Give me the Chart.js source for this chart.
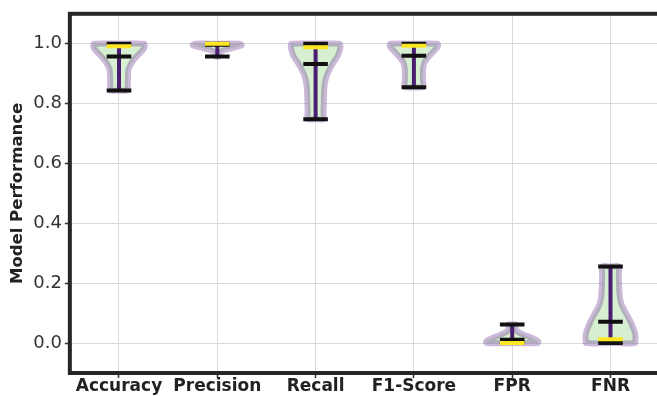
<!DOCTYPE html>
<html>
<head>
<meta charset="utf-8">
<script src="https://cdn.jsdelivr.net/npm/chart.js@4.4.1/dist/chart.umd.min.js"></script>
<style>
  html, body { margin: 0; padding: 0; background: #fff; overflow: hidden; }
  #wrap { width: 662px; height: 396px; }
</style>
</head>
<body>
<div id="wrap"><canvas id="c" width="662" height="396"></canvas></div>
<script>
// Metrics shown on the x axis
const categories = ['Accuracy', 'Precision', 'Recall', 'F1-Score', 'FPR', 'FNR'];
const yTickValues = [0.0, 0.2, 0.4, 0.6, 0.8, 1.0];

// Summary statistics per metric
const minValues    = [0.844, 0.957, 0.748, 0.855, 0.000, 0.000];
const maxValues    = [1.000, 1.000, 1.000, 1.000, 0.062, 0.256];
const meanValues   = [0.957, 0.997, 0.932, 0.960, 0.011, 0.071];
const medianValues = [0.992, 1.000, 0.988, 0.993, 0.000, 0.013];

// Density outline of each violin: score levels and body half-width at each level
const accuracyLevels  = [0.844, 0.86, 0.89, 0.915, 0.93, 0.945, 0.96, 0.975, 0.99, 1.0];
const accuracyWidths  = [0.090, 0.090, 0.091, 0.097, 0.117, 0.147, 0.187, 0.232, 0.262, 0.252];
const precisionLevels = [0.957, 0.965, 0.972, 0.979, 0.985, 0.99, 0.995, 1.0];
const precisionWidths = [0.017, 0.019, 0.032, 0.072, 0.142, 0.202, 0.249, 0.222];
const recallLevels    = [0.748, 0.77, 0.80, 0.83, 0.86, 0.88, 0.90, 0.92, 0.94, 0.96, 0.98, 0.99, 1.0];
const recallWidths    = [0.080, 0.081, 0.083, 0.086, 0.091, 0.102, 0.122, 0.152, 0.187, 0.227, 0.247, 0.253, 0.242];
const f1Levels        = [0.855, 0.88, 0.90, 0.92, 0.94, 0.955, 0.97, 0.985, 0.995, 1.0];
const f1Widths        = [0.092, 0.092, 0.092, 0.094, 0.112, 0.147, 0.187, 0.232, 0.247, 0.237];
const fprLevels       = [0.0, 0.005, 0.012, 0.02, 0.027, 0.035, 0.043, 0.05, 0.062];
const fprWidths       = [0.257, 0.267, 0.232, 0.177, 0.124, 0.072, 0.040, 0.037, 0.037];
const fnrLevels       = [0.0, 0.01, 0.03, 0.05, 0.07, 0.09, 0.11, 0.13, 0.15, 0.17, 0.20, 0.23, 0.256];
const fnrWidths       = [0.247, 0.253, 0.252, 0.232, 0.207, 0.175, 0.141, 0.112, 0.097, 0.091, 0.087, 0.085, 0.084];

const violinLevels = [accuracyLevels, precisionLevels, recallLevels, f1Levels, fprLevels, fnrLevels];
const violinWidths = [accuracyWidths, precisionWidths, recallWidths, f1Widths, fprWidths, fnrWidths];

const CAP_HALF = 0.125;

// Closed outline: bottom centre -> right side up -> top centre -> left side down -> bottom centre
function violinOutline(pos, levels, widths) {
  const n = levels.length;
  const pts = [{ x: pos, y: levels[0] }];
  for (let k = 0; k < n; k++) pts.push({ x: pos + widths[k], y: levels[k] });
  pts.push({ x: pos, y: levels[n - 1] });
  for (let k = n - 1; k >= 0; k--) pts.push({ x: pos - widths[k], y: levels[k] });
  pts.push({ x: pos, y: levels[0] });
  return pts;
}

function hLine(pos, v, color, order) {
  return {
    data: [{ x: pos - CAP_HALF, y: v }, { x: pos + CAP_HALF, y: v }],
    borderColor: color, borderWidth: 4, pointRadius: 0, fill: false,
    borderCapStyle: 'butt', order
  };
}

const datasets = [];
categories.forEach((name, i) => {
  datasets.push({
    label: name,
    data: violinOutline(i, violinLevels[i], violinWidths[i]),
    borderColor: 'rgba(110, 55, 150, 0.35)',
    backgroundColor: '#d6efd1',
    fill: 'shape',
    borderWidth: 6,
    borderJoinStyle: 'round',
    pointRadius: 0,
    tension: 0.3,
    order: 4
  });
  datasets.push({
    data: [{ x: i, y: minValues[i] }, { x: i, y: maxValues[i] }],
    borderColor: '#4a1d70', borderWidth: 4, pointRadius: 0, fill: false, order: 3
  });
  datasets.push(hLine(i, minValues[i], '#111111', 2));
  datasets.push(hLine(i, maxValues[i], '#111111', 2));
  datasets.push(hLine(i, meanValues[i], '#111111', 2));
  datasets.push(hLine(i, medianValues[i], '#fde725', 1));
});

const framePlugin = {
  id: 'frame',
  afterDraw(chart) {
    const { ctx, chartArea: a } = chart;
    ctx.save();
    ctx.strokeStyle = '#262626';
    ctx.lineWidth = 4;
    ctx.strokeRect(a.left, a.top, a.right - a.left, a.bottom - a.top);
    ctx.restore();
  }
};

new Chart(document.getElementById('c'), {
  type: 'line',
  data: { datasets },
  plugins: [framePlugin],
  options: {
    responsive: false,
    animation: false,
    devicePixelRatio: 1,
    events: [],
    layout: { padding: { top: 11.5, right: 2.35, bottom: 0, left: 0 } },
    plugins: { legend: { display: false }, tooltip: { enabled: false } },
    scales: {
      x: {
        type: 'linear',
        min: -0.5,
        max: 5.5,
        afterBuildTicks: s => { s.ticks = categories.map((c, i) => ({ value: i })); },
        afterFit: s => { s.height = 23; },
        ticks: {
          callback: v => categories[v],
          autoSkip: false,
          maxRotation: 0,
          padding: -2,
          color: '#222',
          font: { family: 'DejaVu Sans', size: 17, weight: 'bold' }
        },
        grid: { color: '#d9d9d9', lineWidth: 1, tickColor: '#333', tickLength: 5, tickWidth: 1.5 },
        border: { display: false }
      },
      y: {
        type: 'linear',
        min: -0.1,
        max: 1.1,
        afterBuildTicks: s => { s.ticks = yTickValues.map(v => ({ value: v })); },
        afterFit: s => { s.width = 69.85; },
        ticks: {
          callback: v => v.toFixed(1),
          padding: 3,
          color: '#333',
          font: { family: 'DejaVu Sans', size: 18 }
        },
        title: {
          display: true,
          text: 'Model Performance',
          color: '#222',
          padding: { top: 8, bottom: 0 },
          font: { family: 'DejaVu Sans', size: 16.5, weight: 'bold' }
        },
        grid: { color: '#d9d9d9', lineWidth: 1, tickColor: '#333', tickLength: 5, tickWidth: 1.5 },
        border: { display: false }
      }
    }
  }
});
</script>
</body>
</html>
